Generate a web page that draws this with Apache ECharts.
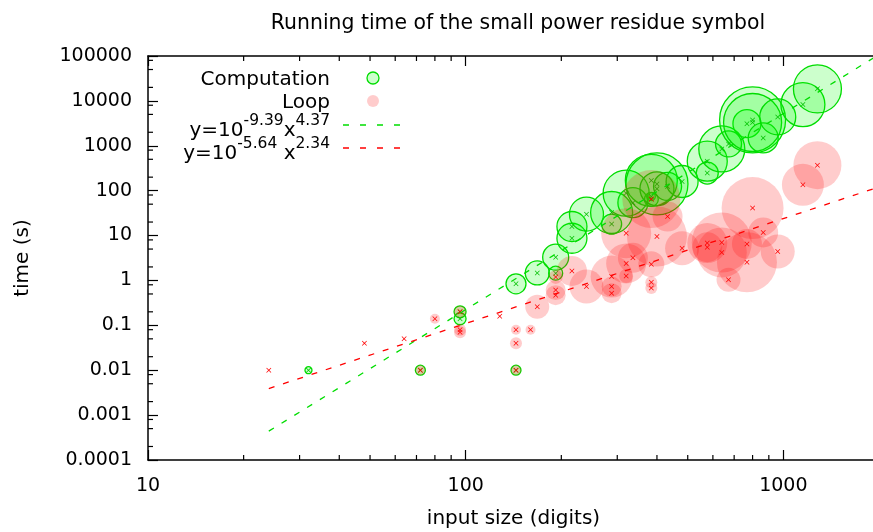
<!DOCTYPE html>
<html>
<head>
<meta charset="utf-8">
<script src="https://cdn.jsdelivr.net/npm/echarts@6/dist/echarts.min.js"></script>
<style>html,body{margin:0;padding:0;background:#fff}#c{width:873px;height:532px}</style>
</head>
<body>
<div id="c"></div>
<script>
// ---- data ----
// [input size (digits), time (s), bubble radius]
const computation = [
  [32, 0.01, 3.5], [72, 0.01, 5], [96, 0.2, 6], [96, 0.14, 6], [144, 0.01, 5],
  [144, 0.84, 10], [168, 1.47, 12], [192, 1.45, 7], [192, 3.3, 13],
  [216, 8.7, 15], [216, 15.9, 15], [240, 30, 17], [288, 18, 10], [288, 32.6, 21],
  [320, 88, 23], [336, 54, 15], [384, 74, 4], [384, 64, 7], [384, 169, 26],
  [400, 141, 31], [400, 110, 17], [432, 124, 14], [480, 160, 16],
  [576, 247, 11], [576, 454, 20], [640, 849, 23], [672, 1100, 13],
  [768, 3110, 14], [800, 3770, 33], [800, 3300, 29], [864, 1493, 15],
  [960, 4400, 18], [1152, 8260, 22], [1280, 18530, 24]
];
const loop = [
  [24, 0.01, 1], [48, 0.04, 1], [64, 0.05, 1], [72, 0.01, 5], [80, 0.14, 5],
  [96, 0.2, 6], [96, 0.08, 6], [96, 0.07, 6], [128, 0.16, 1],
  [144, 0.01, 5], [144, 0.08, 5], [144, 0.04, 6], [160, 0.08, 5],
  [168, 0.26, 12], [192, 0.47, 10], [192, 0.61, 10], [192, 1.2, 7],
  [216, 1.63, 15], [240, 0.73, 17], [288, 0.52, 10], [288, 0.73, 10],
  [288, 1.22, 21], [320, 1.26, 7], [320, 2.4, 20], [336, 3.2, 15],
  [320, 11.3, 25], [384, 2.3, 13], [384, 0.91, 6], [384, 0.68, 6],
  [384, 65, 29], [400, 9.5, 30], [432, 26.5, 15], [480, 5.2, 17],
  [576, 6.8, 20], [576, 5.5, 15], [640, 7, 30], [640, 4.2, 25],
  [672, 1.03, 12], [768, 6.5, 15], [768, 2.55, 30], [800, 41, 31],
  [864, 11.7, 15], [960, 4.4, 17], [1152, 135, 21], [1280, 370, 24]
];
// fitted lines (end points of the drawn fits)
const fitComputation = [[24, 0.00044], [2000, 108000]];
const fitLoop = [[24, 0.0039], [2000, 121]];
// axes
const xMin = 10, xMax = 2000;
const yMin = 0.0001, yMax = 100000;
const xMinorTicks = [20, 30, 40, 50, 60, 70, 80, 90, 200, 300, 400, 500, 600, 700, 800, 900];
const yMinorTicks = [];
[-4, -3, -2, -1, 0, 1, 2, 3, 4].forEach(function (k) {
  [2, 5, 8].forEach(function (m) { yMinorTicks.push(+(m * Math.pow(10, k)).toPrecision(3)); });
});

const FONT = 'DejaVu Sans';
const GREEN = '#00dd00';
const chart = echarts.init(document.getElementById('c'), null, {renderer: 'canvas'});

const cross = 'path://M0,1L1,0L5,4L9,0L10,1L6,5L10,9L9,10L5,6L1,10L0,9L4,5Z';

function fmt(v) { return String(Number(Number(v).toPrecision(6))); }

const richSup = {
  m: {fontFamily: FONT, fontSize: 20, lineHeight: 28, verticalAlign: 'bottom', color: '#000'},
  s: {fontFamily: FONT, fontSize: 15.5, lineHeight: 10, verticalAlign: 'top', color: '#000'}
};

const option = {
  animation: false,
  backgroundColor: '#fff',
  title: {
    text: 'Running time of the small power residue symbol',
    left: 513, top: 9, textAlign: 'center',
    textStyle: {fontFamily: FONT, fontSize: 20.4, fontWeight: 'normal', color: '#000'}
  },
  grid: {left: 148, right: -6, top: 56, bottom: 72, containLabel: false, outerBoundsMode: 'none'},
  xAxis: [{
    type: 'log', min: xMin, max: xMax, logBase: 10,
    name: 'input size (digits)', nameLocation: 'middle', nameGap: 49,
    nameTextStyle: {fontFamily: FONT, fontSize: 20, color: '#000'},
    axisLine: {lineStyle: {color: '#000', width: 1.5}},
    axisTick: {inside: true, length: 10, lineStyle: {color: '#000', width: 1.2}},
    axisLabel: {fontFamily: FONT, fontSize: 19, color: '#000', margin: 17, formatter: fmt, showMaxLabel: false},
    splitLine: {show: false}
  }, {
    type: 'log', min: xMin, max: xMax, logBase: 10, position: 'top',
    axisLine: {lineStyle: {color: '#000', width: 1.5}},
    axisTick: {inside: true, length: 10, lineStyle: {color: '#000', width: 1.2}},
    axisLabel: {show: false}, splitLine: {show: false}
  }],
  yAxis: {
    type: 'log', min: yMin, max: yMax, logBase: 10,
    name: 'time (s)', nameLocation: 'middle', nameGap: 115, nameRotate: 90,
    nameTextStyle: {fontFamily: FONT, fontSize: 20, color: '#000'},
    axisLine: {lineStyle: {color: '#000', width: 1.5}},
    axisTick: {inside: true, length: 10, lineStyle: {color: '#000', width: 1.2}},
    axisLabel: {fontFamily: FONT, fontSize: 19, color: '#000', margin: 16, formatter: fmt},
    splitLine: {show: false}
  },
  series: [
    {
      type: 'custom', silent: true, clip: false, z: 10,
      data: xMinorTicks.map(function (v) { return [v, 1]; }),
      renderItem: function (params, api) {
        const v = api.value(0);
        const b = api.coord([v, yMin]);
        const t = api.coord([v, yMax]);
        const st = {stroke: '#000', lineWidth: 1.2};
        return {type: 'group', children: [
          {type: 'line', shape: {x1: b[0], y1: b[1], x2: b[0], y2: b[1] - 5}, style: st},
          {type: 'line', shape: {x1: t[0], y1: t[1], x2: t[0], y2: t[1] + 5}, style: st}
        ]};
      }
    },
    {
      type: 'custom', silent: true, clip: false, z: 10,
      data: yMinorTicks.map(function (v) { return [100, v]; }),
      renderItem: function (params, api) {
        const v = api.value(1);
        const l = api.coord([xMin, v]);
        return {type: 'line', shape: {x1: l[0], y1: l[1], x2: l[0] + 5, y2: l[1]},
          style: {stroke: '#000', lineWidth: 1.2}};
      }
    },
    {
      name: 'Computation', type: 'scatter', silent: true, z: 2,
      data: computation,
      symbol: 'circle',
      symbolSize: function (v) { return 2 * v[2]; },
      itemStyle: {color: 'rgba(0,255,0,0.2)', borderColor: GREEN, borderWidth: 1.3, opacity: 1}
    },
    {
      name: 'Computation pts', type: 'scatter', silent: true, z: 3,
      data: computation, symbol: cross, symbolSize: 5,
      itemStyle: {color: '#00c000', opacity: 1}
    },
    {
      name: 'Loop', type: 'scatter', silent: true, z: 4,
      data: loop,
      symbol: 'circle',
      symbolSize: function (v) { return 2 * v[2]; },
      itemStyle: {color: 'rgba(255,0,0,0.2)', borderWidth: 0, opacity: 1}
    },
    {
      name: 'Loop pts', type: 'scatter', silent: true, z: 5,
      data: loop, symbol: cross, symbolSize: 5,
      itemStyle: {color: '#ff0000', opacity: 1}
    },
    {
      name: 'fitC', type: 'line', silent: true, z: 6, data: fitComputation,
      symbol: 'none', clip: true,
      lineStyle: {color: GREEN, width: 1.3, type: [6, 9]}
    },
    {
      name: 'fitL', type: 'line', silent: true, z: 6, data: fitLoop,
      symbol: 'none', clip: true,
      lineStyle: {color: '#ff0000', width: 1.3, type: [6, 9]}
    }
  ],
  graphic: [
    {type: 'text', x: 330, y: 80, z: 20, style: {
      text: 'Computation', align: 'right', verticalAlign: 'middle',
      font: '20px "DejaVu Sans"', fill: '#000'}},
    {type: 'circle', x: 373, y: 78, z: 20, shape: {cx: 0, cy: 0, r: 6},
      style: {fill: 'rgba(0,255,0,0.2)', stroke: GREEN, lineWidth: 1.3}},
    {type: 'text', x: 330, y: 103, z: 20, style: {
      text: 'Loop', align: 'right', verticalAlign: 'middle',
      font: '20px "DejaVu Sans"', fill: '#000'}},
    {type: 'circle', x: 373, y: 101, z: 20, shape: {cx: 0, cy: 0, r: 6},
      style: {fill: 'rgba(255,0,0,0.2)'}},
    {type: 'text', x: 330, y: 127, z: 20, style: {
      text: '{m|y=10}{s|-9.39}{m|x}{s|4.37}', align: 'right', verticalAlign: 'middle',
      rich: richSup}},
    {type: 'line', z: 20, shape: {x1: 343, y1: 125, x2: 400, y2: 125},
      style: {stroke: GREEN, lineWidth: 1.3, lineDash: [6, 11]}},
    {type: 'text', x: 330, y: 150, z: 20, style: {
      text: '{m|y=10}{s|-5.64}{m| x}{s|2.34}', align: 'right', verticalAlign: 'middle',
      rich: richSup}},
    {type: 'line', z: 20, shape: {x1: 343, y1: 148, x2: 400, y2: 148},
      style: {stroke: '#ff0000', lineWidth: 1.3, lineDash: [6, 11]}}
  ]
};
chart.setOption(option);
</script>
</body>
</html>
